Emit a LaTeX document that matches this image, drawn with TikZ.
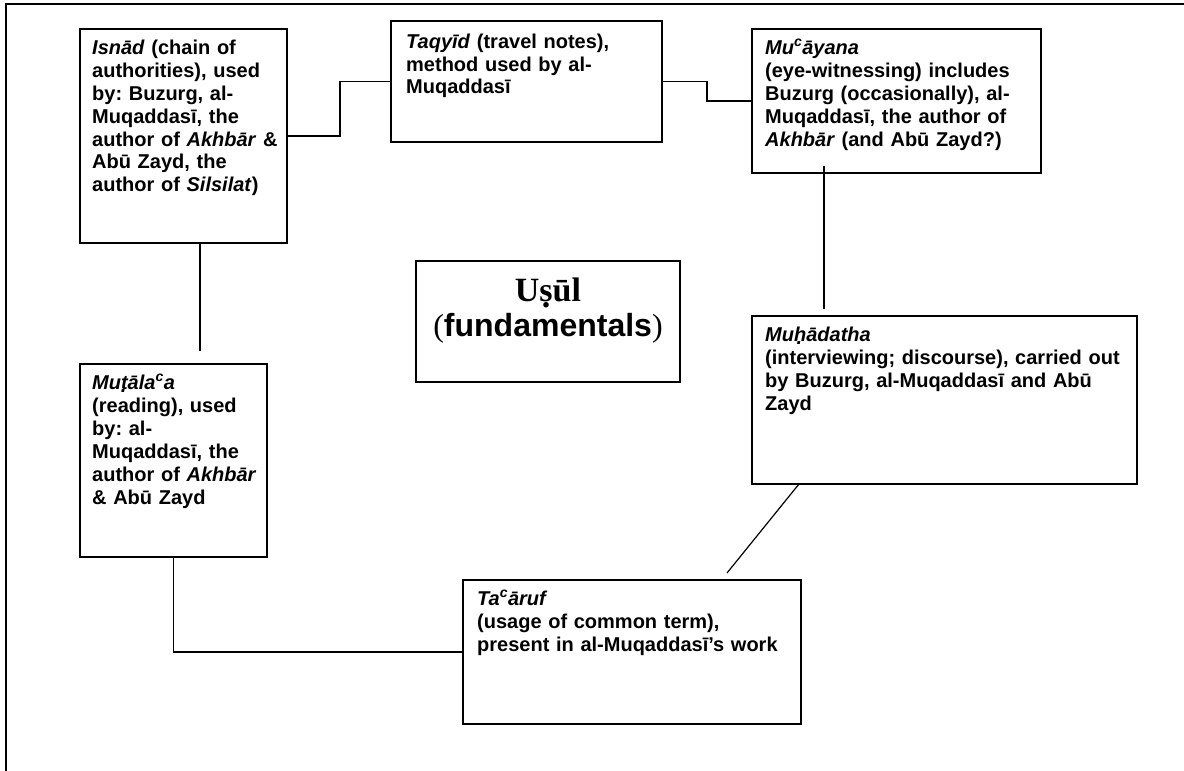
\documentclass[tikz,border=0pt]{standalone}
\usepackage{fontspec}
\setmainfont{Liberation Sans}
\newfontfamily\serifB{Liberation Serif}
\newcommand\dotbl[1]{\ooalign{#1\crcr\hidewidth\smash{\raisebox{-0.19em}{.}}\hidewidth\crcr}}
\newcommand\dotbli[1]{\ooalign{#1\crcr\hidewidth\smash{\raisebox{-0.19em}{.}}\hidewidth\kern0.08em\crcr}}
\newcommand\supc{\textsuperscript{c}}
\frenchspacing
\begin{document}
\begin{tikzpicture}[x=1pt,y=1pt,
  box/.style={draw, line width=1.4pt, anchor=north west, inner sep=0pt, outer sep=0pt},
  txt/.style={anchor=base west, inner sep=0pt, align=left, font=\fontsize{20}{23}\selectfont\bfseries\frenchspacing},
  conn/.style={line width=1.2pt},
  frame/.style={line width=2pt}]
\useasboundingbox (0,0) rectangle (1184,-771);
\draw[frame] (6,-771) -- (6,-4) -- (1184,-4);

% boxes
\node[box, minimum width=207pt, minimum height=214pt] (isnad) at (80,-29) {};
\node[box, minimum width=271pt, minimum height=121pt] (taqyid) at (391,-21) {};
\node[box, minimum width=289pt, minimum height=144pt] (muayana) at (752,-29) {};
\node[box, minimum width=264pt, minimum height=121pt] (usul) at (416,-261) {};
\node[box, minimum width=187pt, minimum height=193pt] (mutalaa) at (80,-364) {};
\node[box, minimum width=385pt, minimum height=168pt] (muhadatha) at (752,-316) {};
\node[box, minimum width=338pt, minimum height=144pt] (taaruf) at (463,-580) {};

% texts
\node[txt, text width=195pt] (isnadT) at ([xshift=12pt,yshift=-25pt]isnad.north west)
 {\textit{Isnād} (chain of\\authorities), used\\by: Buzurg, al-\\Muqaddasī, the\\author of \textit{Akhbār} \&\\Abū Zayd, the\\author of \textit{Silsilat})};
\node[txt, text width=255pt] (taqyidT) at ([xshift=15pt,yshift=-27pt]taqyid.north west)
 {\textit{Taqyīd} (travel notes),\\method used by al-\\Muqaddasī};
\node[txt, text width=275pt] (muayanaT) at ([xshift=13pt,yshift=-25pt]muayana.north west)
 {\textit{Mu\supc āyana}\\(eye-witnessing) includes\\Buzurg (occasionally), al-\\Muqaddasī, the author of\\\textit{Akhbār} (and Abū Zayd?)};
\node[txt, text width=175pt] (mutalaaT) at ([xshift=12pt,yshift=-25pt]mutalaa.north west)
 {\textit{Mu\dotbli{t}āla\supc a}\\(reading), used\\by: al-\\Muqaddasī, the\\author of \textit{Akhbār}\\\& Abū Zayd};
\node[txt, text width=370pt] (muhadathaT) at ([xshift=13pt,yshift=-25pt]muhadatha.north west)
 {\textit{Mu\dotbli{h}ādatha}\\(interviewing; discourse), carried out\\by Buzurg, al-Muqaddasī and Abū\\Zayd};
\node[txt, text width=325pt] (taarufT) at ([xshift=14pt,yshift=-25pt]taaruf.north west)
 {\textit{Ta\supc āruf}\\(usage of common term),\\present in al-Muqaddasī’s work};
\node[anchor=base, inner sep=0pt, align=center, text width=260pt, font=\fontsize{32}{35}\selectfont\bfseries] (usulT) at ([yshift=-40pt]usul.north)
 {{\serifB\fontsize{34}{35}\selectfont U\dotbl{s}ūl}\\{\serifB\mdseries(}fundamentals{\serifB\mdseries)}};

% connectors
\coordinate (i1) at (200,-351);
\coordinate (m1) at (824,-166);
\coordinate (m2) at (824,-309);
\coordinate (d1) at (799,-484);
\coordinate (d2) at (727,-573);
\draw[conn] (isnad.east) -- ++(53,0) |- (taqyid.west);
\draw[conn] (taqyid.east) -- ++(45,0) |- (muayana.west);
\draw[conn] (isnad.south -| i1) -- (i1);
\draw[conn] (m1) -- (m2);
\draw[conn] (d1) -- (d2);
\draw[conn] (mutalaa.south) |- (taaruf.west);
\end{tikzpicture}
\end{document}
